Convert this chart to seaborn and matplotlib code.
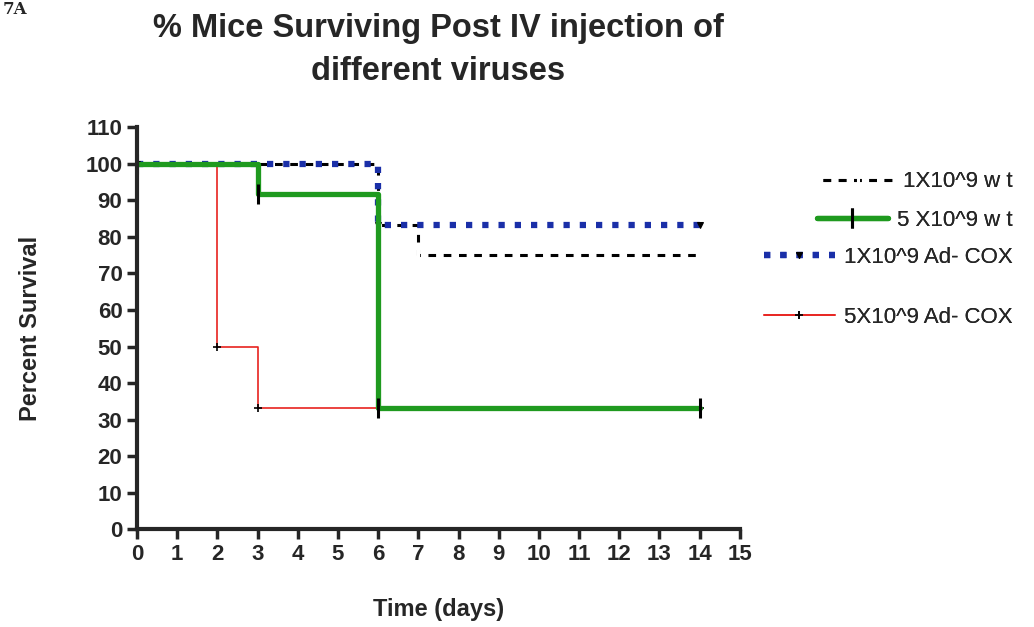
import pandas as pd
import matplotlib.pyplot as plt
import seaborn as sns

# Kaplan-Meier style survival steps (time in days, percent surviving)
wt1_days = [0, 6, 7, 14]
wt1_surv = [100, 83.3, 75, 75]
wt5_days = [0, 3, 6, 14]
wt5_surv = [100, 91.7, 33.3, 33.3]
cox1_days = [0, 6, 14]
cox1_surv = [100, 83.3, 83.3]
cox5_days = [0, 2, 3, 14]
cox5_surv = [100, 50, 33.3, 33.3]

labels = ['1X10^9 w t', '5 X10^9 w t', '1X10^9 Ad- COX', '5X10^9 Ad- COX']
x_ticks = list(range(0, 16))
y_ticks = list(range(0, 111, 10))

sns.set_style("ticks")
plt.rcParams['font.family'] = ['Liberation Sans', 'DejaVu Sans']

fig = plt.figure(figsize=(10.34, 6.27), dpi=100)
ax = fig.add_axes([0.1325, 0.156, 0.583, 0.641])

series = [
    (cox5_days, cox5_surv, labels[3], dict(color='#e8231f', lw=1.2, ls='-', marker='+', ms=6, mec='black', mew=1.2)),
    (wt1_days, wt1_surv, labels[0], dict(color='black', lw=2.2, ls=(0, (2.5, 2.5)), marker='|', ms=12, mew=2.2)),
    (cox1_days, cox1_surv, labels[2], dict(color='#1a2fa8', lw=4.5, ls=(0, (1.0, 1.6)), marker='v', ms=5, mec='black', mfc='black')),
    (wt5_days, wt5_surv, labels[1], dict(color='#1f9a1f', lw=3.8, ls='-', marker='|', ms=14, mec='black', mew=2.2)),
]

for days, surv, lab, kw in series:
    df = pd.DataFrame({'day': days, 'surv': surv})
    sns.lineplot(data=df, x='day', y='surv', ax=ax, drawstyle='steps-post',
                 label=lab, **kw)

h, l = ax.get_legend_handles_labels()
handles = dict(zip(l, h))
ax.get_legend().remove()

ax.set_xlim(0, 15)
ax.set_ylim(0, 110)
ax.set_xticks(x_ticks)
ax.set_yticks(y_ticks)
ax.tick_params(axis='both', labelsize=16, width=2.5, length=7, direction='out')
for t in ax.get_xticklabels() + ax.get_yticklabels():
    t.set_fontweight('bold')
sns.despine(ax=ax)
ax.spines['left'].set_linewidth(3)
ax.spines['bottom'].set_linewidth(3)

ax.set_xlabel('Time (days)', fontsize=17, fontweight='bold', labelpad=24)
ax.set_ylabel('Percent Survival', fontsize=17, fontweight='bold', labelpad=31)
ax.set_title('% Mice Surviving Post IV injection of\ndifferent viruses',
             fontsize=23.5, fontweight='bold', pad=34, linespacing=1.5)

fig.text(0.003, 0.998, '7A', fontsize=12, fontweight='bold', family='DejaVu Serif',
         va='top', ha='left')

# one small legend per entry, right aligned like the original
legend_y = [0.71, 0.649, 0.59, 0.494]
for lab, yy in zip(labels, legend_y):
    lg = fig.legend([handles[lab]], [lab], loc='center right',
                    bbox_to_anchor=(0.99, yy), frameon=False, fontsize=16,
                    handlelength=3.2, handletextpad=0.4, borderpad=0)
    fig.add_artist(lg)

plt.savefig('out.png', dpi=100)
plt.close()
